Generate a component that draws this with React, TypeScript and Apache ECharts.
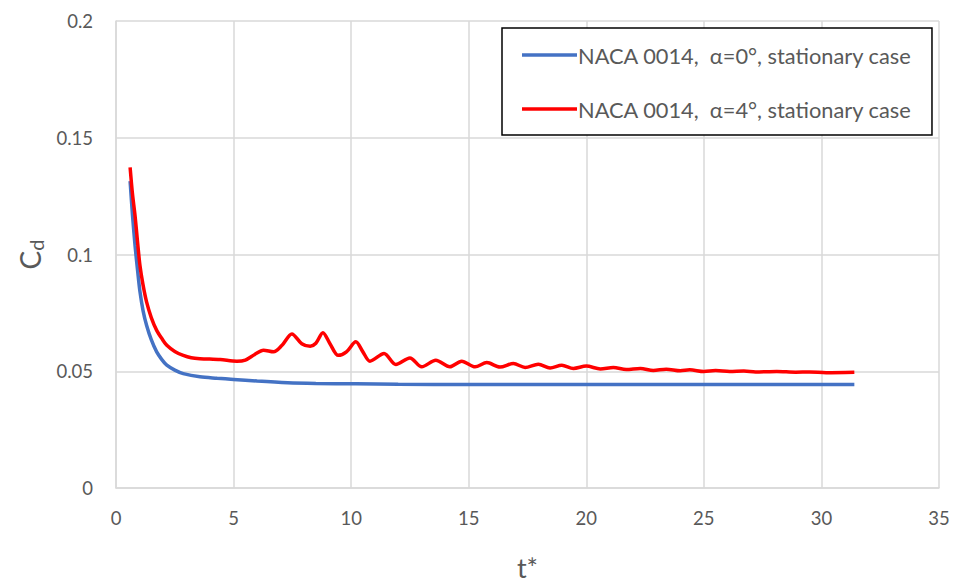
import React, { useEffect, useRef } from "react";
import * as echarts from "echarts";

// Drag coefficient history, NACA 0014, stationary cases
const tAlpha0 = [0.6, 0.7, 0.81, 0.92, 1.02, 1.15, 1.3, 1.5, 1.73, 1.95, 2.16, 2.5, 2.86, 3.57, 4.3, 5, 6, 7.3, 8.5, 10.2, 12, 15, 20, 25, 30, 31.4];
const cdAlpha0 = [0.1314, 0.117, 0.1038, 0.093, 0.084, 0.076, 0.0697, 0.0635, 0.0583, 0.055, 0.0526, 0.0505, 0.049, 0.0476, 0.047, 0.0465, 0.0458, 0.0451, 0.0448, 0.0446, 0.0444, 0.0443, 0.0443, 0.0443, 0.0443, 0.0443];

const tAlpha4 = [0.6, 0.7, 0.81, 0.92, 1.02, 1.15, 1.3, 1.5, 1.73, 1.95, 2.16, 2.5, 2.86, 3.2, 3.57, 4.43, 5.14, 5.5, 5.9, 6.27, 6.7, 7.05, 7.48, 7.9, 8.26, 8.5, 8.8, 9.1, 9.45, 9.8, 10.2, 10.5, 10.8, 11.4, 11.9, 12.5, 13.0, 13.6, 14.2, 14.7, 15.27, 15.77, 16.33, 16.9, 17.4, 17.96, 18.46, 18.96, 19.45, 20.0, 20.6, 21.15, 21.7, 22.3, 22.85, 23.4, 24.0, 24.4, 25.0, 25.5, 26.1, 26.7, 27.2, 28.1, 28.9, 29.5, 30.2, 31.4];
const cdAlpha4 = [0.1373, 0.126, 0.1166, 0.105, 0.0952, 0.087, 0.0797, 0.073, 0.0675, 0.064, 0.0611, 0.0585, 0.0568, 0.0558, 0.0554, 0.055, 0.0543, 0.0548, 0.0572, 0.059, 0.0583, 0.061, 0.066, 0.0618, 0.0607, 0.062, 0.0665, 0.0618, 0.0568, 0.0583, 0.0626, 0.0583, 0.0543, 0.0576, 0.0529, 0.0557, 0.0519, 0.0547, 0.0519, 0.0543, 0.0519, 0.0537, 0.0518, 0.0533, 0.0516, 0.053, 0.0514, 0.0526, 0.0512, 0.0522, 0.051, 0.0516, 0.0507, 0.0512, 0.0503, 0.0509, 0.0502, 0.0506, 0.0499, 0.0503, 0.0499, 0.0501, 0.0497, 0.0499, 0.0496, 0.0497, 0.0494, 0.0496];

const seriesNames = [
  "NACA 0014,  α=0°, stationary case",
  "NACA 0014,  α=4°, stationary case",
];
const seriesColors = ["#4472C4", "#FF0000"];

const FONT = "Lato";
const TEXT = "#595959";
const GRID = "#d9d9d9";

const pairs = (xs: number[], ys: number[]) => xs.map((x, i) => [x, ys[i]]);

export default function App() {
  const ref = useRef<HTMLDivElement>(null);

  useEffect(() => {
    if (!ref.current) return;
    const chart = echarts.init(ref.current, null, { renderer: "svg" });
    chart.setOption({
      animation: false,
      backgroundColor: "#ffffff",
      grid: { left: 116, right: 20, top: 21, bottom: 96, containLabel: false },
      legend: {
        orient: "vertical",
        left: 502,
        top: 28,
        padding: [16, 20, 15, 20],
        itemGap: 32,
        itemWidth: 55,
        itemHeight: 3.5,
        icon: "rect",
        backgroundColor: "#ffffff",
        borderColor: "#000000",
        borderWidth: 1.5,
        borderRadius: 0,
        textStyle: { fontFamily: FONT, fontSize: 21.8, color: TEXT, padding: [0, 0, 0, -4] },
        data: seriesNames,
      },
      xAxis: {
        type: "value",
        min: 0,
        max: 35,
        interval: 5,
        name: "t*",
        nameLocation: "middle",
        nameGap: 66,
        nameTextStyle: { fontFamily: FONT, fontSize: 27, color: TEXT },
        axisLine: { show: true, lineStyle: { color: GRID, width: 1.5 } },
        axisTick: { show: false },
        axisLabel: { fontFamily: FONT, fontSize: 18.5, color: TEXT, margin: 20 },
        splitLine: { show: true, lineStyle: { color: GRID, width: 1.5 } },
      },
      yAxis: {
        type: "value",
        min: 0,
        max: 0.2,
        interval: 0.05,
        name: "{c|C}{d|d}",
        nameLocation: "middle",
        nameGap: 66,
        nameRotate: 90,
        nameTextStyle: {
          color: TEXT,
          rich: {
            c: { fontFamily: FONT, fontSize: 28, color: TEXT },
            d: { fontFamily: FONT, fontSize: 20, color: TEXT, padding: [12, 0, 0, 0] },
          },
        },
        axisLine: { show: true, lineStyle: { color: GRID, width: 1.5 } },
        axisTick: { show: false },
        axisLabel: { fontFamily: FONT, fontSize: 18.5, color: TEXT, margin: 23 },
        splitLine: { show: true, lineStyle: { color: GRID, width: 1.5 } },
      },
      series: [
        {
          name: seriesNames[0],
          type: "line",
          data: pairs(tAlpha0, cdAlpha0),
          smooth: 0.3,
          symbol: "none",
          lineStyle: { color: seriesColors[0], width: 3.5 },
          itemStyle: { color: seriesColors[0] },
        },
        {
          name: seriesNames[1],
          type: "line",
          data: pairs(tAlpha4, cdAlpha4),
          smooth: 0.3,
          symbol: "none",
          lineStyle: { color: seriesColors[1], width: 3.5 },
          itemStyle: { color: seriesColors[1] },
        },
      ],
    });
    return () => chart.dispose();
  }, []);

  return (
    <div
      ref={ref}
      style={{ position: "fixed", left: 0, top: 0, width: 959, height: 586, background: "#fff" }}
    />
  );
}
